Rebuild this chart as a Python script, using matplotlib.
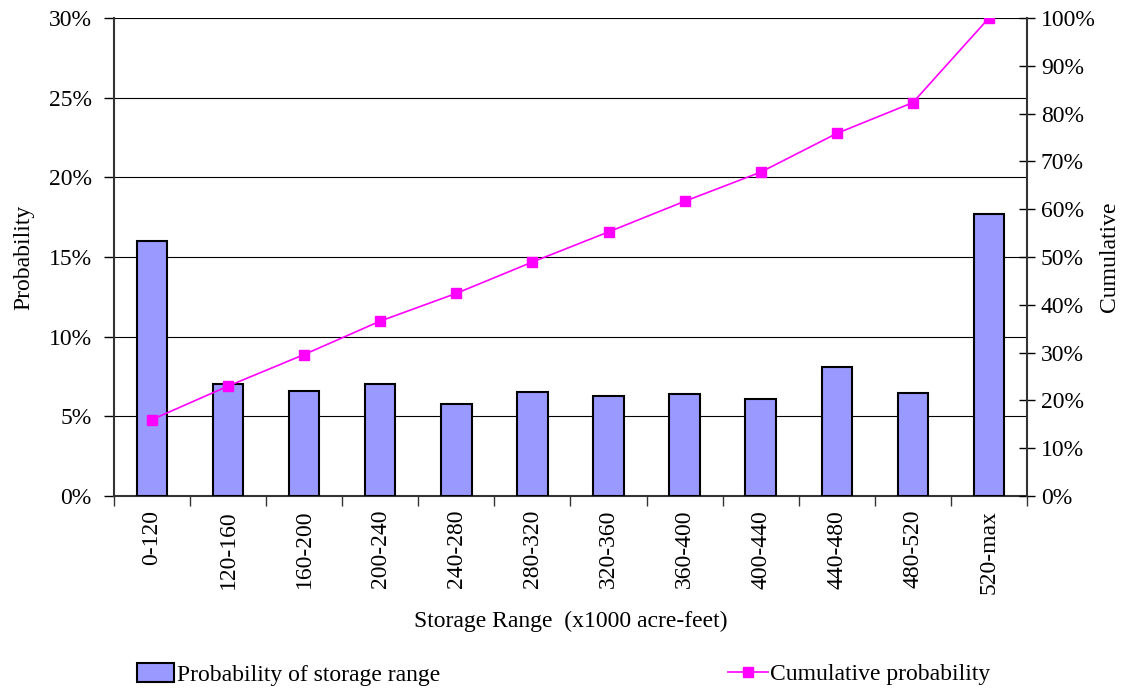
import matplotlib
matplotlib.use("Agg")
import matplotlib.pyplot as plt
from matplotlib.ticker import FuncFormatter, MultipleLocator, FixedLocator
import numpy as np

plt.rcParams["font.family"] = ["Liberation Serif", "DejaVu Serif"]

categories = ["0-120", "120-160", "160-200", "200-240", "240-280", "280-320",
              "320-360", "360-400", "400-440", "440-480", "480-520", "520-max"]
probability = [16.0, 7.0, 6.6, 7.0, 5.8, 6.55, 6.3, 6.4, 6.1, 8.1, 6.45, 17.7]
cumulative = [16.0, 23.0, 29.6, 36.6, 42.4, 48.95, 55.25, 61.65, 67.75, 75.85, 82.3, 100.0]

bar_color = "#9999FF"
line_color = "#FF00FF"
font_size = 17

fig = plt.figure(figsize=(11.23, 6.89), dpi=100)
ax = fig.add_axes([0.1015, 0.2801, 0.8130, 0.6938])
x = np.arange(len(categories))

ax.bar(x, probability, width=0.4, color=bar_color, edgecolor="black",
       linewidth=1.5, zorder=3, label="Probability of storage range")
ax.set_xlim(-0.5, len(categories) - 0.5)
ax.set_ylim(0, 30)
ax.yaxis.set_major_locator(MultipleLocator(5))
ax.yaxis.set_major_formatter(FuncFormatter(lambda v, p: f"{v:.0f}%"))
ax.grid(axis="y", color="black", linewidth=0.8, zorder=0)
ax.set_axisbelow(True)

# category labels sit between boundary ticks
ax.xaxis.set_major_locator(FixedLocator(np.arange(len(categories) + 1) - 0.5))
ax.xaxis.set_major_formatter(FuncFormatter(lambda v, p: ""))
ax.xaxis.set_minor_locator(FixedLocator(x))
ax.set_xticklabels(categories, minor=True, rotation=90, fontsize=font_size)
ax.tick_params(axis="x", which="major", direction="out", length=7, width=1.0, color="#333333")
ax.tick_params(axis="x", which="minor", length=0, pad=10)
ax.tick_params(axis="y", direction="out", length=7, width=1.0, labelsize=font_size, pad=9)

for side in ("top", "right"):
    ax.spines[side].set_visible(False)
for side in ("left", "bottom"):
    ax.spines[side].set_linewidth(1.5)
    ax.spines[side].set_color("#333333")

ax.set_ylabel("Probability", fontsize=font_size, labelpad=10)
ax.set_xlabel("Storage Range  (x1000 acre-feet)", fontsize=font_size, labelpad=12)

ax2 = ax.twinx()
ax2.plot(x, cumulative, color=line_color, linewidth=1.2, marker="s",
         markersize=6.5, zorder=4, label="Cumulative probability")
ax2.set_ylim(0, 100)
ax2.set_xlim(-0.5, len(categories) - 0.5)
ax2.yaxis.set_major_locator(MultipleLocator(10))
ax2.yaxis.set_major_formatter(FuncFormatter(lambda v, p: f"{v:.0f}%"))
ax2.tick_params(axis="y", direction="inout", length=12, width=1.0, labelsize=font_size, pad=4)
for side in ("top", "left", "bottom"):
    ax2.spines[side].set_visible(False)
ax2.spines["right"].set_linewidth(1.5)
ax2.spines["right"].set_color("#333333")
ax2.set_ylabel("Cumulative", fontsize=font_size, rotation=90, labelpad=2)

h1, l1 = ax.get_legend_handles_labels()
h2, l2 = ax2.get_legend_handles_labels()
leg1 = fig.legend(h1, l1, loc="center left", bbox_to_anchor=(0.122, 0.021),
                  frameon=False, fontsize=font_size, handlelength=1.55,
                  handleheight=0.85, handletextpad=0.15, borderaxespad=0,
                  borderpad=0)
leg2 = fig.legend(h2, l2, loc="center left", bbox_to_anchor=(0.648, 0.021),
                  frameon=False, fontsize=font_size, handlelength=1.7,
                  handletextpad=0.1, borderaxespad=0, borderpad=0)

fig.savefig("out.png", dpi=100)
